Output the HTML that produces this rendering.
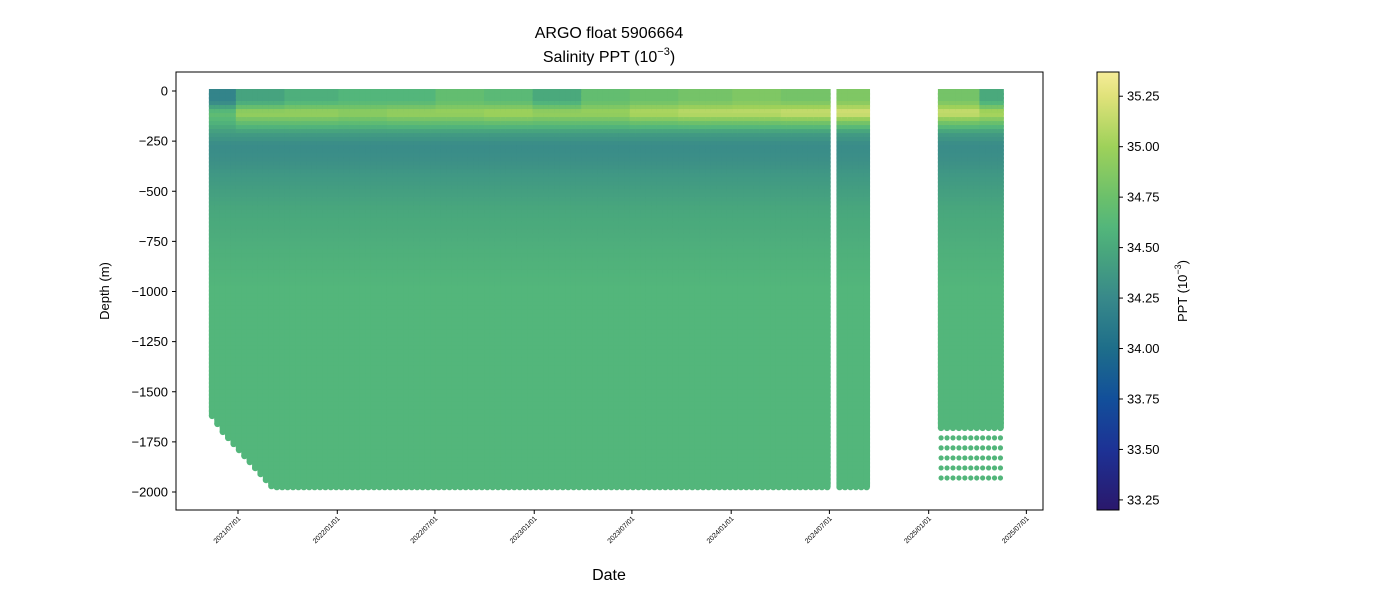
<!DOCTYPE html>
<html><head><meta charset="utf-8"><style>
body{margin:0;background:#fff;font-family:"Liberation Sans",sans-serif}
svg text{font-family:"Liberation Sans","DejaVu Sans",sans-serif}
</style></head><body>
<svg id="c" width="1400" height="600" viewBox="0 0 1400 600">
<text x="609" y="38" font-size="16" text-anchor="middle">ARGO float 5906664</text>
<text x="609" y="62" font-size="16" text-anchor="middle">Salinity PPT (10<tspan font-size="11" dy="-7">−3</tspan><tspan dy="7">)</tspan></text>
<g id="plot"></g>
<rect x="176" y="72" width="867" height="438" fill="none" stroke="#000" stroke-width="1"/>
<g id="yax"></g>
<g id="xax"></g>
<text x="109" y="291" font-size="13" text-anchor="middle" transform="rotate(-90 109 291)">Depth (m)</text>
<text x="609" y="580" font-size="16" text-anchor="middle">Date</text>
<defs><linearGradient id="cg" x1="0" y1="1" x2="0" y2="0"></linearGradient></defs>
<rect x="1097" y="72" width="22" height="438" fill="url(#cg)" stroke="#000" stroke-width="1"/>
<g id="cax"></g>
<text x="1187" y="291" font-size="13" text-anchor="middle" transform="rotate(-90 1187 291)">PPT (10<tspan font-size="9" dy="-6">−3</tspan><tspan dy="6">)</tspan></text>
</svg>
<script>
// ---- data ----
const segments = [["2021-05-14","2024-07-04",10],["2024-07-20","2024-09-15",10],["2025-01-24","2025-05-14",11]];
const earlyMaxDepth = [1620,1660,1700,1730,1760,1790,1820,1850,1880,1910,1940,1970];
const quarterStarts = ["2021-04-01","2021-07-01","2021-10-01","2022-01-01","2022-04-01","2022-07-01","2022-10-01","2023-01-01","2023-04-01","2023-07-01","2023-10-01","2024-01-01","2024-04-01","2024-07-01","2024-10-01","2025-01-01","2025-04-01"];
const surfSal = [34.2,34.45,34.55,34.6,34.6,34.7,34.65,34.5,34.7,34.75,34.8,34.85,34.8,34.85,34.9,34.8,34.5];
const coreSal = [34.7,35.0,35.0,34.95,35.0,35.0,35.05,35.0,35.0,35.1,35.15,35.15,35.2,35.25,35.3,35.2,35.1];
const baseDepths = [0,60,120,160,220,280,350,450,600,800,1000,1500,2000];
const baseSal =    [0,0,1,0.8,34.4,34.27,34.3,34.38,34.48,34.55,34.6,34.6,34.6];
const lateDotDepths = [1730,1780,1830,1880,1930];
const yTicks = [0,-250,-500,-750,-1000,-1250,-1500,-1750,-2000];
const xTicks = ["2021/07/01","2022/01/01","2022/07/01","2023/01/01","2023/07/01","2024/01/01","2024/07/01","2025/01/01","2025/07/01"];
const cTicks = [33.25,33.5,33.75,34.0,34.25,34.5,34.75,35.0,35.25];
const cmapVals = [33.2,33.5,33.75,34.0,34.25,34.5,34.6,34.75,35.0,35.25,35.37];
const cmapCols = ["#2a186c","#1d3295","#124f9a","#1e6e8a","#38898a","#4aa97c","#53b67b","#6bc06b","#9ed15a","#e0e27a","#f5ec98"];
// ---- scales ----
const NS="http://www.w3.org/2000/svg";
const d0=Date.UTC(2021,6,1);
function day(s){const p=s.split(/[-\/]/).map(Number);return (Date.UTC(p[0],p[1]-1,p[2])-d0)/864e5;}
function X(s){return 238+day(s)*0.5396;}
function Y(d){return 91-d*0.2005;}
function CY(v){return 510-(v-33.2)/(35.37-33.2)*438;}
function hex(c){return [1,3,5].map(i=>parseInt(c.substr(i,2),16));}
function color(v){
  if(v<=cmapVals[0])return cmapCols[0];
  for(let i=1;i<cmapVals.length;i++){if(v<=cmapVals[i]){const t=(v-cmapVals[i-1])/(cmapVals[i]-cmapVals[i-1]);const a=hex(cmapCols[i-1]),b=hex(cmapCols[i]);return "rgb("+a.map((x,k)=>Math.round(x+(b[k]-x)*t)).join(",")+")";}}
  return cmapCols[cmapCols.length-1];
}
function el(n,a,p){const e=document.createElementNS(NS,n);for(const k in a)e.setAttribute(k,a[k]);p.appendChild(e);return e;}
function quarterIdx(s){let q=0;for(let i=0;i<quarterStarts.length;i++)if(day(s)>=day(quarterStarts[i]))q=i;return q;}
function salAt(d,q){
  const vals=baseSal.map((v,i)=>i<2?surfSal[q]:(i===2?coreSal[q]:(i===3?(coreSal[q]+34.5)/2:v)));
  for(let i=1;i<baseDepths.length;i++)if(d<=baseDepths[i]){const t=(d-baseDepths[i-1])/(baseDepths[i]-baseDepths[i-1]);return vals[i-1]+(vals[i]-vals[i-1])*t;}
  return vals[vals.length-1];
}
const plot=document.getElementById('plot');
let pi=0;
segments.forEach((sg,si)=>{
  const a=day(sg[0]),b=day(sg[1]);
  for(let t=a;t<=b+0.1;t+=sg[2]){
    const dt=new Date(d0+t*864e5);const s=dt.toISOString().slice(0,10);
    const q=quarterIdx(s);
    const x=238+t*0.5396;
    let maxD=si===0&&pi<earlyMaxDepth.length?earlyMaxDepth[pi]:(si===2?1680:1975);
    const g=el('g',{},plot);
    
    
    for(let d=0;d<maxD;d+=20){
      el('rect',{x:x-3.2,y:Y(-d)-2,width:6.6,height:Math.min(20,maxD-d)*0.2005+2.2,fill:color(salAt(d+10,q))},g);
    }
    el('circle',{cx:x,cy:Y(-maxD),r:3.3,fill:color(34.6)},g);
    if(si===2){
      lateDotDepths.forEach(dd=>{el('circle',{cx:x,cy:Y(-dd),r:2.6,fill:color(34.6)},g);});
    }
    pi++;
  }
});
// gradient
const cg=document.getElementById('cg');
cmapVals.forEach((v,i)=>el('stop',{offset:((v-33.2)/(35.37-33.2)).toFixed(3),'stop-color':cmapCols[i]},cg));
// axes
const yax=document.getElementById('yax');
yTicks.forEach(v=>{const y=Y(v);el('line',{x1:172,x2:176,y1:y,y2:y,stroke:'#000'},yax);
  const t=el('text',{x:168,y:y+4.5,'font-size':13,'text-anchor':'end'},yax);t.textContent=(v<0?'−':'')+Math.abs(v);
  
  });
const xax=document.getElementById('xax');
xTicks.forEach(s=>{const x=X(s);el('line',{x1:x,x2:x,y1:510,y2:514,stroke:'#000'},xax);
  const t=el('text',{x:x+3,y:519,'font-size':7,'text-anchor':'end',transform:`rotate(-45 ${x+3} 519)`},xax);t.textContent=s;
  
  });
const cax=document.getElementById('cax');
cTicks.forEach(v=>{const y=CY(v);el('line',{x1:1119,x2:1123,y1:y,y2:y,stroke:'#000'},cax);
  const t=el('text',{x:1127,y:y+4.5,'font-size':13},cax);t.textContent=v.toFixed(2);
  
  });
</script>
</body></html>
